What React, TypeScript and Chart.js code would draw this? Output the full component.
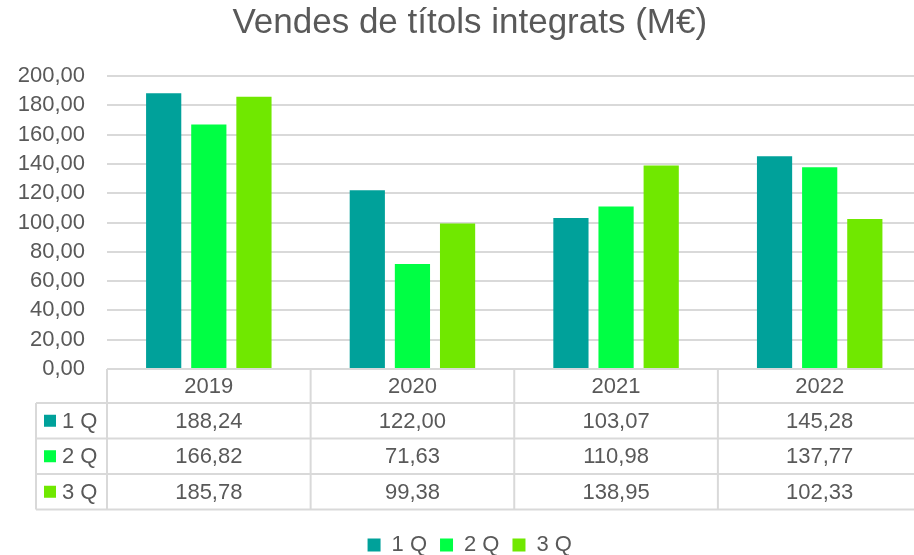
import React, { useEffect, useRef } from "react";
import { Chart, registerables } from "chart.js";

Chart.register(...registerables);

const TITLE = "Vendes de títols integrats (M€)";
const categories = ["2019", "2020", "2021", "2022"];
const seriesLabels = ["1 Q", "2 Q", "3 Q"];
const q1Values = [188.24, 122.0, 103.07, 145.28];
const q2Values = [166.82, 71.63, 110.98, 137.77];
const q3Values = [185.78, 99.38, 138.95, 102.33];
const seriesColors = ["#00A19A", "#00FF44", "#70E800"];
const Y_MIN = 0;
const Y_MAX = 200;
const Y_STEP = 20;

const FONT = "'Liberation Sans', Arial, sans-serif";
const TEXT = "#595959";
const LINE = "#D9D9D9";

const fmt = (v: number) => v.toFixed(2).replace(".", ",");

const dataTablePlugin = {
  id: "dataTable",
  afterDraw(chart: any) {
    const { ctx, chartArea } = chart;
    const xs = chart.scales.x;
    const labels = chart.data.labels as string[];
    const n = labels.length;
    const step = xs.getPixelForValue(1) - xs.getPixelForValue(0);
    const left = xs.getPixelForValue(0) - step / 2;
    const right = xs.getPixelForValue(n - 1) + step / 2;
    const top = chartArea.bottom;
    const headerH = 34;
    const rowH = 35.5;
    const legendLeft = 36;
    const datasets = chart.data.datasets;
    const rows = datasets.length;
    const bottom = top + headerH + rowH * rows;

    ctx.save();
    ctx.strokeStyle = LINE;
    ctx.lineWidth = 2;
    const line = (x1: number, y1: number, x2: number, y2: number) => {
      ctx.beginPath();
      ctx.moveTo(x1, y1);
      ctx.lineTo(x2, y2);
      ctx.stroke();
    };
    line(left, top, right, top);
    for (let r = 0; r <= rows; r++) {
      const y = top + headerH + r * rowH;
      line(legendLeft, y, right, y);
    }
    for (let i = 0; i <= n; i++) {
      const x = left + i * step;
      line(x, top, x, bottom);
    }
    line(legendLeft, top + headerH, legendLeft, bottom);

    ctx.fillStyle = TEXT;
    ctx.font = `22px ${FONT}`;
    ctx.textAlign = "center";
    ctx.textBaseline = "middle";
    for (let i = 0; i < n; i++) {
      ctx.fillText(labels[i], xs.getPixelForValue(i), top + headerH / 2 + 1);
    }
    for (let r = 0; r < rows; r++) {
      const ds = datasets[r];
      const cy = top + headerH + r * rowH + rowH / 2 + 1;
      ctx.textAlign = "center";
      ctx.fillStyle = TEXT;
      for (let i = 0; i < n; i++) {
        ctx.fillText(fmt(ds.data[i] as number), xs.getPixelForValue(i), cy);
      }
      ctx.fillStyle = ds.backgroundColor as string;
      ctx.fillRect(legendLeft + 8, cy - 7, 12, 12);
      ctx.fillStyle = TEXT;
      ctx.textAlign = "left";
      ctx.fillText(ds.label, legendLeft + 26, cy);
    }
    ctx.restore();
  },
};

export default function App() {
  const canvasRef = useRef<HTMLCanvasElement | null>(null);

  useEffect(() => {
    document.body.style.margin = "0";
    const canvas = canvasRef.current;
    if (!canvas) return;
    const seriesValues = [q1Values, q2Values, q3Values];
    const chart = new Chart(canvas, {
      type: "bar",
      data: {
        labels: categories,
        datasets: seriesLabels.map((label, i) => ({
          label,
          data: seriesValues[i],
          backgroundColor: seriesColors[i],
          borderWidth: 0,
          categoryPercentage: 0.665,
          barPercentage: 0.78,
        })),
      },
      options: {
        animation: false,
        responsive: true,
        maintainAspectRatio: false,
        layout: { padding: { top: 0, left: 18, right: 24.5, bottom: -11 } },
        plugins: {
          title: {
            display: true,
            text: TITLE,
            color: TEXT,
            font: { family: FONT, size: 35, weight: "normal" },
            padding: { top: 2, bottom: 32 },
          },
          legend: {
            display: true,
            position: "bottom",
            labels: {
              color: TEXT,
              font: { family: FONT, size: 22 },
              boxWidth: 13,
              boxHeight: 13,
              padding: 13,
            },
          },
          tooltip: { enabled: false },
        },
        scales: {
          x: {
            type: "category",
            display: true,
            grid: { display: false },
            border: { display: false },
            ticks: { display: false },
            afterFit: (scale: any) => {
              scale.height = 152;
            },
          },
          y: {
            min: Y_MIN,
            max: Y_MAX,
            border: { display: false },
            grid: { color: LINE, lineWidth: 2, drawTicks: false },
            ticks: {
              stepSize: Y_STEP,
              autoSkip: false,
              color: TEXT,
              font: { family: FONT, size: 22 },
              padding: 22,
              callback: (v: any) => fmt(Number(v)),
            },
            afterFit: (scale: any) => {
              scale.width = 89;
            },
          },
        },
      },
      plugins: [dataTablePlugin],
    });
    return () => chart.destroy();
  }, []);

  return (
    <div style={{ width: 914, height: 555, overflow: "hidden" }}>
      <div style={{ position: "relative", width: 946, height: 555 }}>
        <canvas ref={canvasRef} />
      </div>
    </div>
  );
}
